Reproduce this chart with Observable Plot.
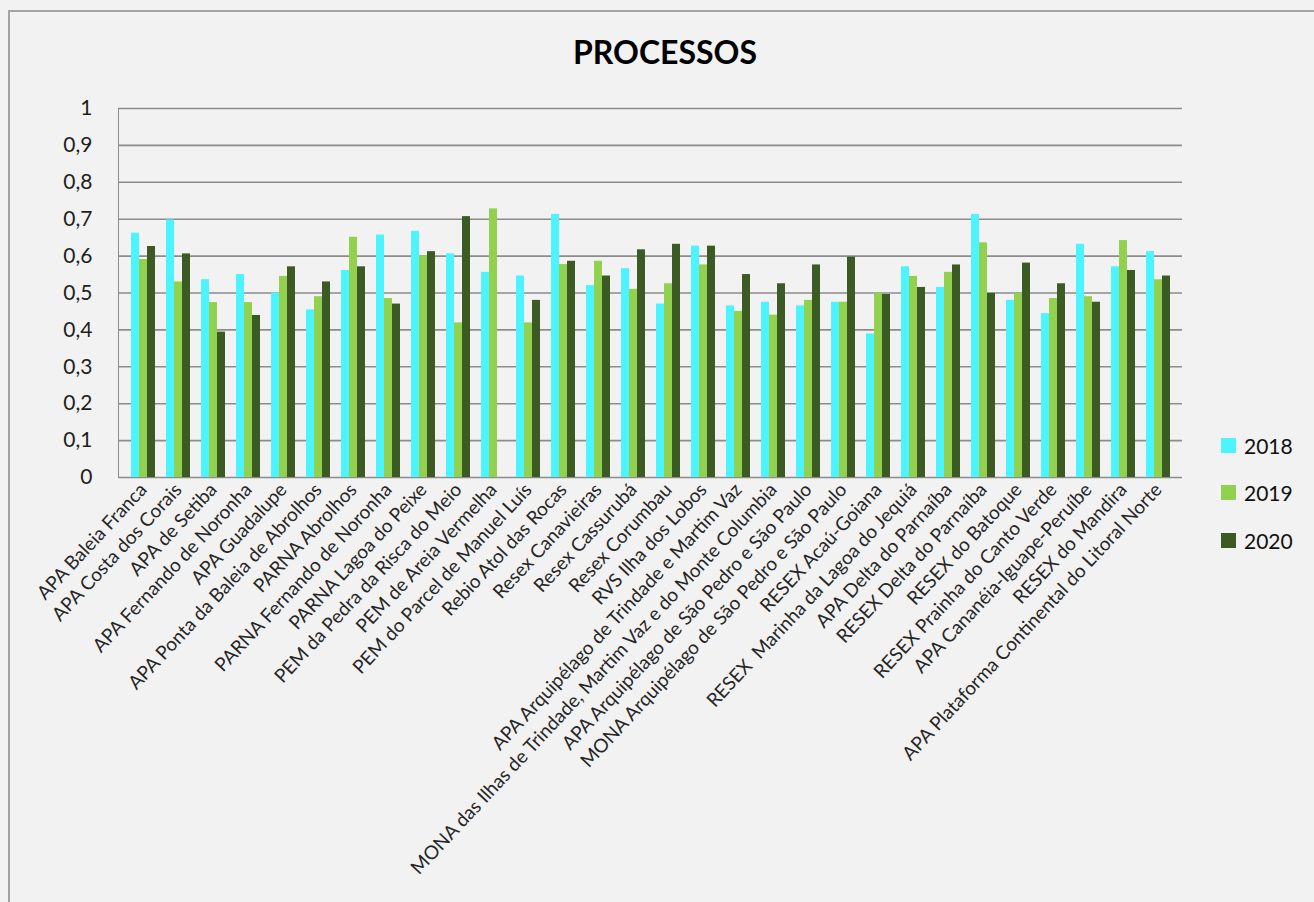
<!DOCTYPE html>
<html>
<head>
<meta charset="utf-8">
<script src="https://cdn.jsdelivr.net/npm/d3@7"></script>
<script src="https://cdn.jsdelivr.net/npm/@observablehq/plot@0.6"></script>
<style>
  html, body { margin: 0; padding: 0; background: #f2f2f2; width: 1314px; height: 902px; overflow: hidden; }
  #frame { position: absolute; left: 8px; top: 10px; width: 1340px; height: 920px; border: 2px solid #a3a3a3; background: #f2f2f2; box-sizing: border-box; }
  #title { position: absolute; left: 0; width: 1330px; top: 36px; text-align: center; font: bold 32px Lato, sans-serif; line-height: 32px; color: #000; }
  #chart { position: absolute; left: 0; top: 0; }
  #chart svg text { fill: #1e1e1e; }
  #chart svg [aria-label^="x-axis"] text { font-size: 19px; fill: #262626; }
  #chart svg [aria-label^="y-axis"] text { font-size: 21px; }
  .leg { position: absolute; left: 1221px; height: 15px; display: flex; align-items: center; font: 21px Lato, sans-serif; color: #111; }
  .leg span.sw { width: 15px; height: 15px; display: inline-block; margin-right: 8px; }
</style>
</head>
<body>
<div id="frame"></div>
<div id="chart"></div>
<div id="title">PROCESSOS</div>
<div id="legend"></div>
<script>
const categories = [
  "APA Baleia Franca",
  "APA Costa dos Corais",
  "APA de Setiba",
  "APA Fernando de Noronha",
  "APA Guadalupe",
  "APA Ponta da Baleia de Abrolhos",
  "PARNA Abrolhos",
  "PARNA Fernando de Noronha",
  "PARNA Lagoa do Peixe",
  "PEM da Pedra da Risca do Meio",
  "PEM de Areia Vermelha",
  "PEM do Parcel de Manuel Luís",
  "Rebio Atol das Rocas",
  "Resex Canavieiras",
  "Resex Cassurubá",
  "Resex Corumbau",
  "RVS Ilha dos Lobos",
  "APA Arquipélago de Trindade e Martim Vaz",
  "MONA das Ilhas de Trindade, Martim Vaz e do Monte Columbia",
  "APA Arquipélago de São Pedro e São Paulo",
  "MONA Arquipélago de São Pedro e São Paulo",
  "RESEX Acaú-Goiana",
  "RESEX  Marinha da Lagoa do Jequiá",
  "APA Delta do Parnaíba",
  "RESEX Delta do Parnaíba",
  "RESEX do Batoque",
  "RESEX Prainha do Canto Verde",
  "APA Cananéia-Iguape-Peruíbe",
  "RESEX do Mandira",
  "APA Plataforma Continental do Litoral Norte"
];
const years = ["2018", "2019", "2020"];
const colors = ["#4cf4ff", "#92d050", "#3b5a24"];
const v2018 = [0.662, 0.698, 0.536, 0.550, 0.500, 0.454, 0.561, 0.657, 0.667, 0.606, 0.556, 0.546, 0.713, 0.520, 0.566, 0.470, 0.627, 0.465, 0.475, 0.465, 0.475, 0.389, 0.571, 0.515, 0.713, 0.480, 0.444, 0.632, 0.571, 0.612];
const v2019 = [0.591, 0.530, 0.474, 0.474, 0.545, 0.490, 0.651, 0.485, 0.601, 0.419, 0.728, 0.419, 0.577, 0.586, 0.510, 0.525, 0.576, 0.450, 0.440, 0.480, 0.475, 0.500, 0.545, 0.556, 0.636, 0.499, 0.485, 0.490, 0.642, 0.536];
const v2020 = [0.626, 0.606, 0.394, 0.439, 0.571, 0.530, 0.571, 0.470, 0.612, 0.707, null, 0.480, 0.586, 0.546, 0.617, 0.632, 0.627, 0.550, 0.525, 0.576, 0.597, 0.496, 0.515, 0.576, 0.499, 0.581, 0.525, 0.475, 0.561, 0.546];
const yTicks = [0, 0.1, 0.2, 0.3, 0.4, 0.5, 0.6, 0.7, 0.8, 0.9, 1];

const table = categories.map((c, i) => ({category: c, v2018: v2018[i], v2019: v2019[i], v2020: v2020[i]}));

const offsets = [-8, 0, 8];
const chart = Plot.plot({
  width: 1314,
  height: 902,
  marginTop: 108,
  marginLeft: 118,
  marginRight: 132,
  marginBottom: 425,
  style: {background: "transparent", fontFamily: "Lato, sans-serif", color: "#8c8c8c", overflow: "visible"},
  x: {domain: categories, paddingInner: 0.775, paddingOuter: 0.3875, tickRotate: -47, tickSize: 0, tickPadding: 9, label: null},
  y: {domain: [0, 1], ticks: yTicks, tickFormat: d => String(d).replace(".", ","), tickSize: 0, tickPadding: 26, label: null, line: true},
  marks: [
    Plot.ruleY(yTicks, {stroke: "#8c8c8c", strokeWidth: 1.6}),
    ...years.map((yr, k) => Plot.barY(table, {x: "category", y: "v" + yr, fill: colors[k], dx: offsets[k]}))
  ]
});
document.getElementById("chart").appendChild(chart);

const legend = document.getElementById("legend");
const legTops = [438, 485, 533];
years.forEach((yr, k) => {
  const d = document.createElement("div");
  d.className = "leg";
  d.style.top = legTops[k] + "px";
  d.innerHTML = `<span class="sw" style="background:${colors[k]}"></span><span>${yr}</span>`;
  legend.appendChild(d);
});
</script>
</body>
</html>
